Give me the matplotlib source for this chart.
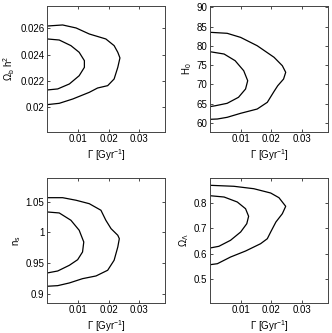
import numpy as np
import matplotlib
matplotlib.use('Agg')
import matplotlib.pyplot as plt

plt.rcParams['font.family'] = 'Liberation Sans'
plt.rcParams['mathtext.fontset'] = 'custom'
plt.rcParams['mathtext.rm'] = 'Liberation Sans'
plt.rcParams['mathtext.it'] = 'Liberation Sans'
plt.rcParams['font.size'] = 7

# Omega_b h^2 contours (Gamma, value)
ob_outer_g = [0, 0.0050, 0.0094, 0.0137, 0.0191, 0.0218, 0.0230, 0.0237, 0.0230, 0.0218, 0.0197, 0.0164, 0.0137, 0.0083, 0.0039, 0]
ob_outer_v = [0.02619, 0.02627, 0.02604, 0.02558, 0.0252, 0.02469, 0.02418, 0.02375, 0.02303, 0.02214, 0.02163, 0.02145, 0.02112, 0.02061, 0.02028, 0.02018]
ob_inner_g = [0, 0.0039, 0.0077, 0.0104, 0.0121, 0.0121, 0.0104, 0.0072, 0.0034, 0]
ob_inner_v = [0.0252, 0.02512, 0.02469, 0.02418, 0.02354, 0.02303, 0.02239, 0.02176, 0.02138, 0.0213]

# H0 contours
h0_outer_g = [0, 0.0056, 0.0100, 0.0154, 0.0209, 0.0236, 0.0247, 0.0240, 0.0221, 0.0209, 0.0187, 0.0154, 0.0100, 0.0056, 0.0024, 0]
h0_outer_v = [83.52, 83.26, 82.2, 80.04, 77.04, 74.86, 73.15, 71.4, 69.67, 68.2, 65.37, 63.63, 62.52, 61.48, 61.04, 60.96]
h0_inner_g = [0, 0.0046, 0.0082, 0.0110, 0.0123, 0.0116, 0.0093, 0.0056, 0.0018, 0]
h0_inner_v = [78.49, 77.89, 76.16, 73.56, 70.97, 68.82, 66.67, 65.11, 64.49, 64.25]

# n_s contours
ns_outer_g = [0, 0.0050, 0.0094, 0.0137, 0.0175, 0.0191, 0.0208, 0.0230, 0.0235, 0.0230, 0.0218, 0.0197, 0.0159, 0.0115, 0.0072, 0.0034, 0]
ns_outer_v = [1.0565, 1.0565, 1.0523, 1.0467, 1.036, 1.0197, 1.006, 0.9952, 0.9897, 0.9761, 0.9545, 0.9382, 0.9289, 0.9245, 0.9175, 0.9131, 0.9121]
ns_inner_g = [0, 0.0039, 0.0077, 0.0104, 0.0119, 0.0115, 0.0099, 0.0072, 0.0034, 0]
ns_inner_v = [1.0332, 1.0316, 1.0197, 1.0034, 0.9843, 0.968, 0.9554, 0.9463, 0.937, 0.9338]

# Omega_Lambda contours
ol_outer_g = [0, 0.0078, 0.0143, 0.0198, 0.0225, 0.0247, 0.0236, 0.0215, 0.0198, 0.0187, 0.0165, 0.0116, 0.0067, 0.0024, 0]
ol_outer_v = [0.8674, 0.8635, 0.854, 0.8372, 0.8188, 0.7851, 0.7561, 0.7236, 0.6845, 0.6582, 0.6386, 0.61, 0.5865, 0.5603, 0.5564]
ol_inner_g = [0, 0.0046, 0.0089, 0.0116, 0.0126, 0.0120, 0.0100, 0.0067, 0.0029, 0]
ol_inner_v = [0.8266, 0.8215, 0.802, 0.7757, 0.746, 0.717, 0.6845, 0.652, 0.6285, 0.6218]

panels = [
    (ob_outer_g, ob_outer_v, ob_inner_g, ob_inner_v, r'$\Omega_b$ h$^2$',
     (0.01811, 0.02772), [0.02, 0.022, 0.024, 0.026], ['0.02', '0.022', '0.024', '0.026']),
    (h0_outer_g, h0_outer_v, h0_inner_g, h0_inner_v, r'H$_0$',
     (57.75, 90.34), [60, 65, 70, 75, 80, 85, 90], ['60', '65', '70', '75', '80', '85', '90']),
    (ns_outer_g, ns_outer_v, ns_inner_g, ns_inner_v, r'n$_s$',
     (0.8853, 1.0881), [0.9, 0.95, 1.0, 1.05], ['0.9', '0.95', '1', '1.05']),
    (ol_outer_g, ol_outer_v, ol_inner_g, ol_inner_v, r'$\Omega_\Lambda$',
     (0.4076, 0.8948), [0.5, 0.6, 0.7, 0.8], ['0.5', '0.6', '0.7', '0.8']),
]

W, H = 332, 333
boxes = [(47.3, 6, 165.3, 131.7), (210, 6, 328, 131.7),
         (47.3, 178.3, 165.3, 302.7), (210, 178.3, 328, 302.7)]

fig = plt.figure(figsize=(W / 100, H / 100), dpi=100)
for (og, ov, ig, iv, lab, ylim, yt, ytl), (x0, y0, x1, y1) in zip(panels, boxes):
    ax = fig.add_axes([x0 / W, 1 - y1 / H, (x1 - x0) / W, (y1 - y0) / H])
    ax.plot(og, ov, 'k-', lw=0.9)
    ax.plot(ig, iv, 'k-', lw=0.9)
    ax.set_xlim(0, 0.0385)
    ax.set_ylim(*ylim)
    ax.set_xticks([0.01, 0.02, 0.03])
    ax.set_xticklabels(['0.01', '0.02', '0.03'])
    ax.set_yticks(yt)
    ax.set_yticklabels(ytl)
    ax.tick_params(direction='in', length=2.5, width=0.5, top=True, right=True, pad=2)
    for s in ax.spines.values():
        s.set_linewidth(0.7)
        s.set_color('#444444')
    ax.set_xlabel(r'$\Gamma$ [Gyr$^{-1}$]', labelpad=2)
    ax.set_ylabel(lab, labelpad=2)

fig.savefig('out.png', dpi=100)
